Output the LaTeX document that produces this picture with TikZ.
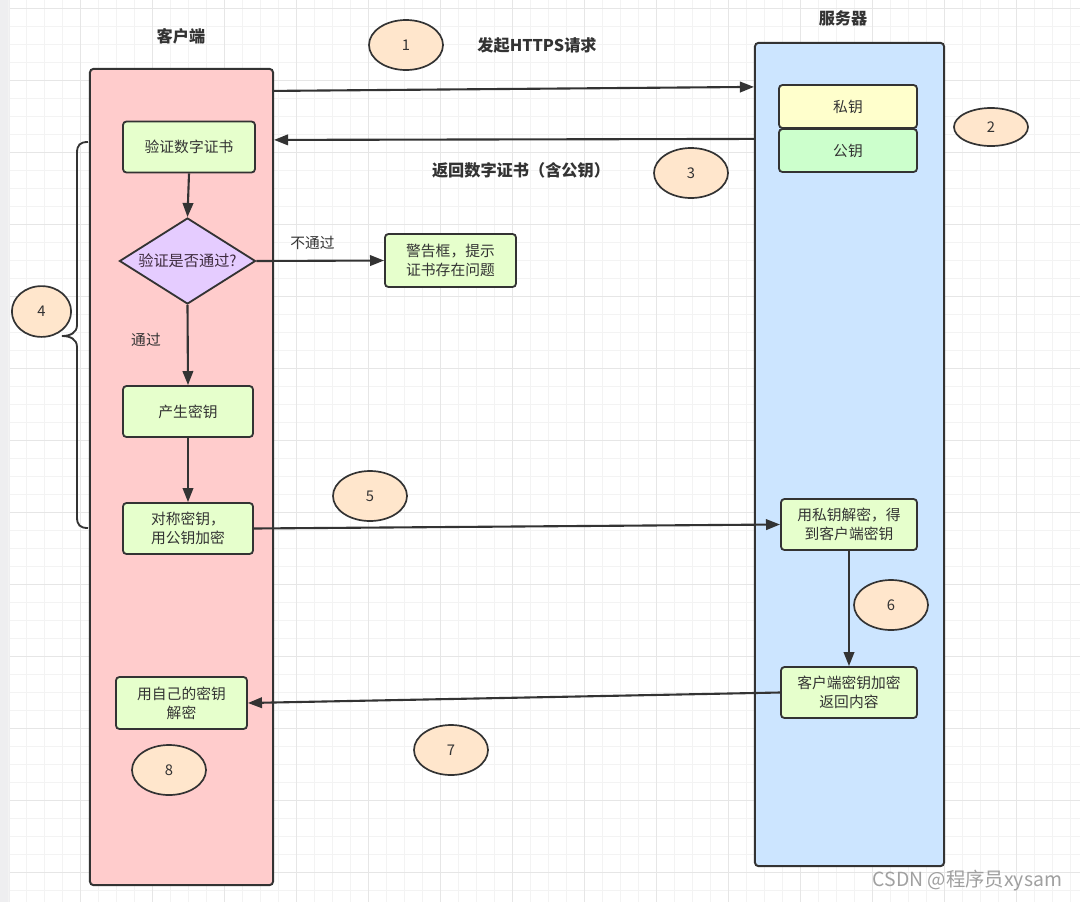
\documentclass[tikz,border=0pt]{standalone}
\usepackage{fontspec}
\setmainfont{Noto Sans CJK SC}
\usetikzlibrary{shapes.geometric,arrows.meta,calc}
\definecolor{ink}{HTML}{333333}
\definecolor{clientfill}{HTML}{FFCCCC}
\definecolor{serverfill}{HTML}{CCE5FF}
\definecolor{stepfill}{HTML}{E6FFCC}
\definecolor{privfill}{HTML}{FFFFCC}
\definecolor{pubfill}{HTML}{CCFFCC}
\definecolor{decfill}{HTML}{E5CCFF}
\definecolor{numfill}{HTML}{FFE6CC}
\definecolor{gridminor}{HTML}{F3F3F3}
\definecolor{gridmajor}{HTML}{E6E6E6}
\definecolor{stripgray}{HTML}{EEEEF0}
\definecolor{wm}{HTML}{A0A0A0}
\begin{document}
\begin{tikzpicture}[x=0.025cm,y=-0.025cm,
  container/.style={draw=ink,line width=1.4pt,rounded corners=2.5pt,inner sep=0pt},
  stepbox/.style={draw=ink,line width=1.3pt,rounded corners=2.5pt,fill=stepfill,
     text=ink,font=\fontsize{10.5}{13.5}\selectfont,align=center,inner sep=0pt,
     minimum width=3.3cm,minimum height=1.275cm},
  keybox/.style={draw=ink,line width=1.3pt,rounded corners=2.5pt,text=ink,
     font=\fontsize{10.5}{13}\selectfont,inner sep=0pt,minimum width=3.45cm,minimum height=1.075cm},
  numell/.style={ellipse,draw=ink,line width=1.2pt,fill=numfill,text=ink,
     font=\fontsize{10.5}{12}\selectfont,inner sep=0pt,minimum width=1.85cm,minimum height=1.25cm},
  title/.style={font=\fontsize{11.5}{14}\selectfont\bfseries,text=ink},
  edgelabel/.style={font=\fontsize{10.5}{12}\selectfont,text=ink},
  conn/.style={draw=ink,line width=1.5pt,-{Triangle[length=10pt,width=7.5pt]}},
  plain/.style={draw=ink,line width=1.5pt}
]
\useasboundingbox (0,0) rectangle (1080,902);
\fill[white] (0,0) rectangle (1080,902);
\fill[stripgray] (0,0) rectangle (10,902);
% grid
\foreach \g in {8,26,...,1080} {\draw[gridminor,line width=0.5pt] (\g,0) -- (\g,902);}
\foreach \g in {8,26,...,902} {\draw[gridminor,line width=0.5pt] (10,\g) -- (1080,\g);}
\foreach \g in {80,152,...,1080} {\draw[gridmajor,line width=0.6pt] (\g,0) -- (\g,902);}
\foreach \g in {8,80,...,902} {\draw[gridmajor,line width=0.6pt] (10,\g) -- (1080,\g);}

% containers
\node[container,fill=clientfill,minimum width=4.575cm,minimum height=20.4cm] (client) at (181.5,477) {};
\node[container,fill=serverfill,minimum width=4.725cm,minimum height=20.575cm] (server) at (849.5,454.5) {};

% titles
\node[title] (tclient) at (181,36) {客户端};
\node[title] (tserver) at (843,18) {服务器};
\node[title] (treq) at (537,45) {发起HTTPS请求};
\node[title] (tret) at (521,170) {返回数字证书（含公钥）};

% keys
\node[keybox,fill=privfill] (priv) at (848,106.5) {私钥};
\node[keybox,fill=pubfill] (pub) at (848,150.5) {公钥};

% client steps
\node[stepbox,minimum width=3.3cm] (verify) at (189,147) {验证数字证书};
\node[diamond,draw=ink,line width=1.3pt,fill=decfill,inner sep=0pt,
      minimum width=3.4cm,minimum height=2.15cm,
      label={[text=ink!85!violet,font=\fontsize{10.8}{13}\selectfont]center:验证是否通过?}] (check) at (187.5,261) {};
\node[stepbox,minimum width=3.275cm,minimum height=1.325cm] (warn) at (450.5,260.5) {警告框，提示\\证书存在问题};
\node[stepbox,minimum width=3.25cm] (gen) at (188,411.5) {产生密钥};
\node[stepbox,minimum width=3.25cm] (sym) at (188,528.5) {对称密钥，\\用公钥加密};
\node[stepbox,minimum width=3.275cm,minimum height=1.3cm] (own) at (181.5,703) {用自己的密钥\\解密};

% server steps
\node[stepbox,minimum width=3.4cm] (sdec) at (849,524.5) {用私钥解密，得\\到客户端密钥};
\node[stepbox,minimum width=3.4cm] (senc) at (849,692.5) {客户端密钥加密\\返回内容};

% numbered ellipses
\node[numell] (n1) at (406,45) {1};
\node[numell,minimum height=0.95cm] (n2) at (991,127) {2};
\node[numell] (n3) at (691,173) {3};
\node[numell,minimum width=1.48cm,minimum height=1.27cm] (n4) at (41.5,311.5) {4};
\node[numell] (n5) at (370,496) {5};
\node[numell] (n6) at (891,605) {6};
\node[numell] (n7) at (451,750) {7};
\node[numell] (n8) at (169,770) {8};

% connectors
\draw[conn] ($(client.north east)+(0,23)$) -- ($(server.north west)+(0,45)$);
\draw[conn] ($(server.north west)+(0,97)$) -- ($(client.north east)+(0,72)$);
\draw[conn] (verify.south) -- (check.north);
\draw[conn] (check.east) -- node[edgelabel,pos=0.44,above=4pt] (lno) {不通过} (warn.west);
\draw[conn] (check.south) -- (gen.north);
\node[edgelabel] (lyes) at (146,340) {通过};
\draw[conn] (gen.south) -- (sym.north);
\draw[conn] (sym.east) -- (sdec.west);
\draw[conn] (sdec.south) -- (senc.north);
\draw[conn] (senc.west) -- (own.east);

% brace for step 4
\coordinate (btop) at (88,142);
\coordinate (bbot) at (88,528);
\draw[ink,line width=1.3pt] (btop) .. controls (80,142) and (77,145) .. (77,153)
  -- (77,325) .. controls (77,333) and (70,336) .. (62,336)
  .. controls (70,336) and (77,339) .. (77,347)
  -- (77,517) .. controls (77,525) and (80,528) .. (bbot);

% watermark
\node[text=wm,font=\fontsize{13.8}{15}\selectfont,anchor=east] (wmark) at (1067,881) {CSDN @程序员xysam};
\end{tikzpicture}
\end{document}
